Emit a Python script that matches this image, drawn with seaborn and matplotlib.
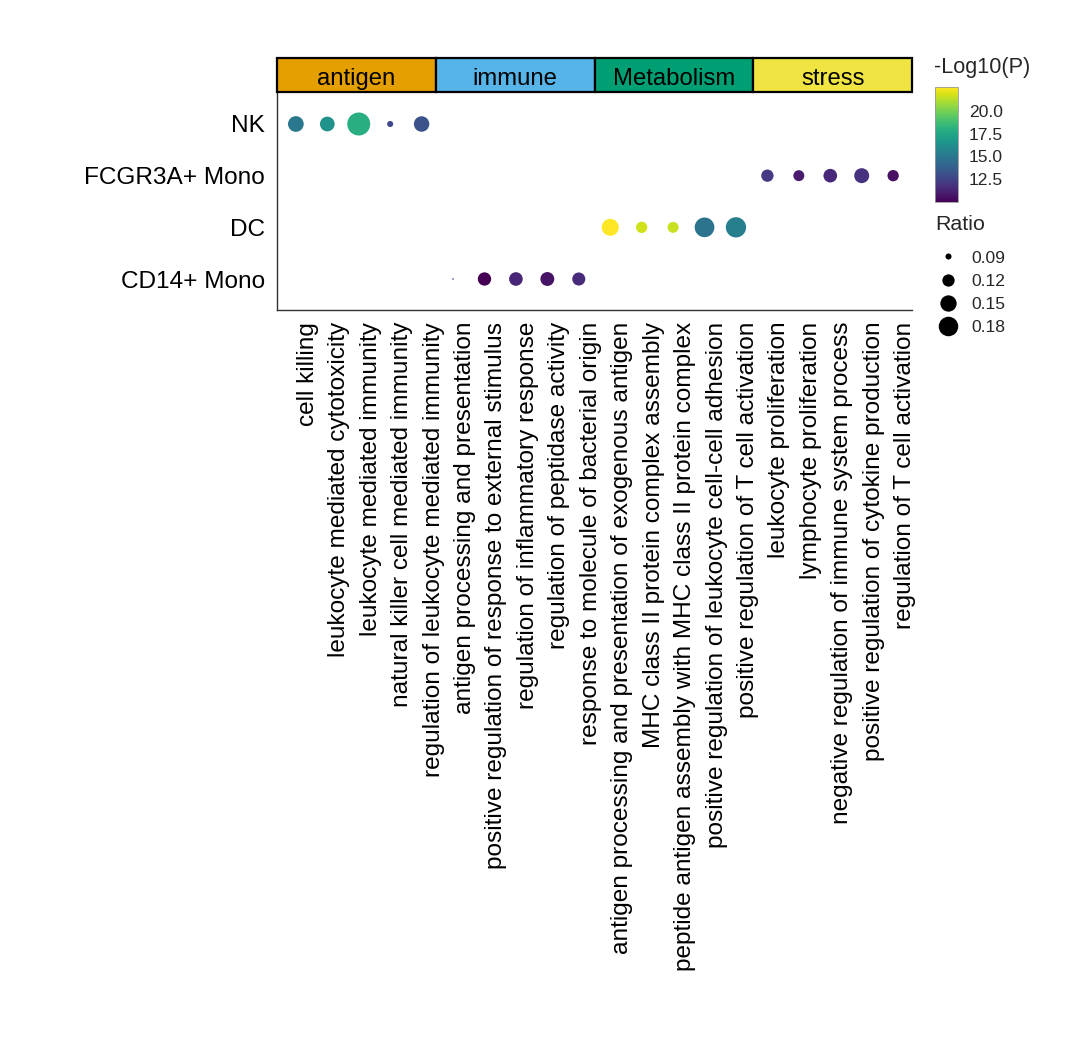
import numpy as np
import pandas as pd
import matplotlib
matplotlib.use("Agg")
import matplotlib.pyplot as plt
import matplotlib.colors as mcolors
import matplotlib.transforms as mtransforms
from matplotlib.lines import Line2D
from matplotlib.patches import Rectangle
import seaborn as sns

# ---------------- data ----------------
cell_types = (["NK"] * 5 + ["CD14+ Mono"] * 5 + ["DC"] * 5 + ["FCGR3A+ Mono"] * 5)
terms = [
    "cell killing", "leukocyte mediated cytotoxicity", "leukocyte mediated immunity",
    "natural killer cell mediated immunity", "regulation of leukocyte mediated immunity",
    "antigen processing and presentation", "positive regulation of response to external stimulus",
    "regulation of inflammatory response", "regulation of peptidase activity",
    "response to molecule of bacterial origin",
    "antigen processing and presentation of exogenous antigen", "MHC class II protein complex assembly",
    "peptide antigen assembly with MHC class II protein complex",
    "positive regulation of leukocyte cell-cell adhesion", "positive regulation of T cell activation",
    "leukocyte proliferation", "lymphocyte proliferation",
    "negative regulation of immune system process", "positive regulation of cytokine production",
    "regulation of T cell activation",
]
ratio = [0.145, 0.137, 0.219, 0.090, 0.143,
         0.081, 0.127, 0.129, 0.131, 0.125,
         0.156, 0.114, 0.112, 0.182, 0.188,
         0.120, 0.112, 0.129, 0.139, 0.114]
neg_log10_p = [15.0, 16.3, 17.9, 12.8, 13.2,
               13.0, 10.0, 11.3, 10.6, 11.5,
               22.6, 21.7, 21.6, 14.8, 15.4,
               12.1, 10.9, 11.4, 11.8, 10.5]
y_order = ["CD14+ Mono", "DC", "FCGR3A+ Mono", "NK"]   # bottom -> top
groups = ["antigen", "immune", "Metabolism", "stress"]
group_colors = ["#E69F00", "#56B4E9", "#009E73", "#F0E442"]
legend_ratios = [0.09, 0.12, 0.15, 0.18]
cbar_ticks = [12.5, 15.0, 17.5, 20.0]

df = pd.DataFrame({
    "term": pd.Categorical(terms, categories=terms),
    "cell": pd.Categorical(cell_types, categories=y_order),
    "Ratio": ratio,
    "logp": neg_log10_p,
})

# ---------------- style ----------------
sns.set_theme(style="white")
plt.rcParams["font.family"] = ["Liberation Sans", "DejaVu Sans"]

DPI = 100
W, H = 1080, 1051
fig = plt.figure(figsize=(W / DPI, H / DPI), dpi=DPI)

def fx(px):
    return px / W

def fy(py):
    return 1 - py / H

# main panel: x 277..912, y 93..310
ax = fig.add_axes([fx(277), fy(310), fx(912) - fx(277), fy(93) - fy(310)])

px_to_pt2 = (72 / DPI) ** 2
rmin, rmax = min(ratio), max(ratio)
dmin_px, dmax_px = 1.6, 23.0
smin, smax = dmin_px ** 2 * px_to_pt2, dmax_px ** 2 * px_to_pt2

pmin, pmax = min(neg_log10_p), max(neg_log10_p)
norm = mcolors.Normalize(vmin=pmin, vmax=pmax)

sns.scatterplot(data=df, x="term", y="cell", hue="logp", size="Ratio",
                palette="viridis", hue_norm=norm, sizes=(smin, smax),
                size_norm=(rmin, rmax), linewidth=0, legend=False, ax=ax)

ax.set_xlim(-0.6, len(terms) - 1 + 0.6)
ax.set_ylim(-0.6, len(y_order) - 1 + 0.6)
ax.set_xlabel("")
ax.set_ylabel("")
for s in ["top", "right"]:
    ax.spines[s].set_visible(False)
for s in ["left", "bottom"]:
    ax.spines[s].set_color("#333333")
    ax.spines[s].set_linewidth(1.0)
ax.tick_params(axis="both", length=0)
ax.tick_params(axis="x", pad=8.5, labelsize=17.6, labelcolor="black")
ax.tick_params(axis="y", pad=8.5, labelsize=17.6, labelcolor="black")
shift = mtransforms.ScaledTranslation(12 / DPI, 0, fig.dpi_scale_trans)
for lab in ax.get_xticklabels():
    lab.set_rotation(90)
    lab.set_ha("center")
    lab.set_va("top")
    lab.set_transform(lab.get_transform() + shift)

# strip header
sax = fig.add_axes([fx(277), fy(92), fx(912) - fx(277), fy(58) - fy(92)])
sax.set_xlim(0, 1)
sax.set_ylim(0, 1)
sax.axis("off")
for i, (g, c) in enumerate(zip(groups, group_colors)):
    sax.add_patch(Rectangle((i * 0.25, 0), 0.25, 1, facecolor=c, edgecolor="black",
                            linewidth=1.6, clip_on=False))
    sax.text(i * 0.25 + 0.125, 0.38, g, ha="center", va="center", fontsize=17.2,
             color="black")

# colorbar
cax = fig.add_axes([fx(935), fy(202), fx(958) - fx(935), fy(87) - fy(202)])
sm = plt.cm.ScalarMappable(norm=norm, cmap="viridis")
cb = fig.colorbar(sm, cax=cax, ticks=cbar_ticks)
cb.ax.set_yticklabels([f"{t:.1f}" for t in cbar_ticks])
cb.outline.set_edgecolor("#999999")
cb.outline.set_linewidth(0.6)
cax.tick_params(axis="y", direction="in", length=4, width=0.7, color="#333333",
                left=True, right=True, labelsize=12.6, pad=8)
fig.text(fx(934), fy(67), "-Log10(P)", ha="left", va="center", fontsize=15.6)

# size legend
fig.text(fx(935), fy(225), "Ratio", ha="left", va="center", fontsize=15.4)
handles = []
for r in legend_ratios:
    area_pt = smin + (smax - smin) * (r - rmin) / (rmax - rmin)
    handles.append(Line2D([], [], marker="o", linestyle="", color="black",
                          markersize=np.sqrt(area_pt), markeredgewidth=0))
leg = fig.legend(handles, [f"{r:.2f}" for r in legend_ratios],
                 loc="upper left", bbox_to_anchor=(fx(925), fy(238)), frameon=False,
                 fontsize=12.6, labelspacing=0.46, handletextpad=0.77, borderpad=0.2,
                 handlelength=1.2)

fig.savefig("out.png", dpi=DPI, facecolor="white")
